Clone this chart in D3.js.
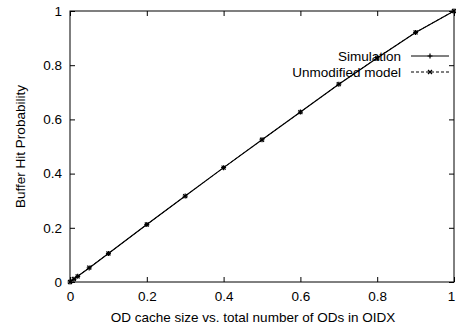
<!DOCTYPE html>
<html>
<head>
<meta charset="utf-8">
<script src="https://cdn.jsdelivr.net/npm/d3@7"></script>
<style>
  html, body { margin: 0; padding: 0; background: #fff; }
  svg { display: block; font-family: "Liberation Sans", Arial, sans-serif; }
</style>
</head>
<body>
<svg id="chart" width="456" height="331"></svg>
<script>
// Cache size ratio (x) and buffer hit probability for each series
const cacheRatio = [0, 0.01, 0.02, 0.05, 0.1, 0.2, 0.3, 0.4, 0.5, 0.6, 0.7, 0.8, 0.9, 1.0];
const simulationHit = [0, 0.010, 0.021, 0.052, 0.105, 0.212, 0.317, 0.422, 0.525, 0.627, 0.730, 0.827, 0.921, 1.0];
const modelHit = [0, 0.011, 0.021, 0.053, 0.105, 0.212, 0.317, 0.422, 0.525, 0.627, 0.730, 0.827, 0.921, 1.0];
const xTicks = [0, 0.2, 0.4, 0.6, 0.8, 1];
const yTicks = [0, 0.2, 0.4, 0.6, 0.8, 1];
const seriesNames = ["Simulation", "Unmodified model"];

const svg = d3.select("#chart");
const margin = { left: 70, right: 2, top: 11, bottom: 49 };
const W = 456, H = 331;
const FS = 13.5;

const x = d3.scaleLinear().domain([0, 1]).range([margin.left, W - margin.right]);
const y = d3.scaleLinear().domain([0, 1]).range([H - margin.bottom, margin.top]);

const tickLen = 5;

// Axes with inward ticks, mirrored on the opposite sides
const fmt = d => d === 0 ? "0" : (d === 1 ? "1" : d3.format(".1f")(d));

const gx = svg.append("g").attr("transform", `translate(0,${y(0)})`)
  .call(d3.axisBottom(x).tickValues(xTicks).tickFormat(fmt).tickSizeInner(-tickLen).tickSizeOuter(0).tickPadding(9));
const gy = svg.append("g").attr("transform", `translate(${x(0)},0)`)
  .call(d3.axisLeft(y).tickValues(yTicks).tickFormat(fmt).tickSizeInner(-tickLen).tickSizeOuter(0).tickPadding(8));
const gxTop = svg.append("g").attr("transform", `translate(0,${y(1)})`)
  .call(d3.axisTop(x).tickValues(xTicks).tickFormat("").tickSizeInner(-tickLen).tickSizeOuter(0));
const gyRight = svg.append("g").attr("transform", `translate(${x(1)},0)`)
  .call(d3.axisRight(y).tickValues(yTicks).tickFormat("").tickSizeInner(-tickLen).tickSizeOuter(0));

[gx, gy, gxTop, gyRight].forEach(g => {
  g.select(".domain").remove();
  g.selectAll("line").attr("stroke", "#000");
  g.selectAll("text").attr("fill", "#000").attr("font-size", FS)
    .attr("font-family", "'Liberation Sans', Arial, sans-serif");
});
// keep the last x label inside the window
gx.selectAll(".tick:last-of-type text").attr("text-anchor", "end").attr("dx", "0.05em");

// Plot border
svg.append("rect")
  .attr("x", x(0)).attr("y", y(1))
  .attr("width", x(1) - x(0)).attr("height", y(0) - y(1))
  .attr("fill", "none").attr("stroke", "#000").attr("stroke-width", 1);

// Axis titles
svg.append("text")
  .attr("x", 253).attr("y", 322)
  .attr("text-anchor", "middle").attr("font-size", FS)
  .text("OD cache size vs. total number of ODs in OIDX");
svg.append("text")
  .attr("transform", `translate(25,${(y(0) + y(1)) / 2}) rotate(-90)`)
  .attr("text-anchor", "middle").attr("font-size", FS)
  .text("Buffer Hit Probability");

const line = d3.line().x(d => x(d[0])).y(d => y(d[1]));
const simData = cacheRatio.map((c, i) => [c, simulationHit[i]]);
const modData = cacheRatio.map((c, i) => [c, modelHit[i]]);

const plusPath = s => `M${-s},0H${s}M0,${-s}V${s}`;
const crossPath = s => `M${-s},${-s}L${s},${s}M${-s},${s}L${s},${-s}`;

// Model series (dashed, x markers)
svg.append("path").datum(modData).attr("d", line)
  .attr("fill", "none").attr("stroke", "#000").attr("stroke-width", 1)
  .attr("stroke-dasharray", "3,2");
svg.append("g").selectAll("path").data(modData).join("path")
  .attr("transform", d => `translate(${x(d[0])},${y(d[1])})`)
  .attr("d", crossPath(2)).attr("stroke", "#000").attr("stroke-width", 1.2);

// Simulation series (solid, + markers)
svg.append("path").datum(simData).attr("d", line)
  .attr("fill", "none").attr("stroke", "#000").attr("stroke-width", 1.2);
svg.append("g").selectAll("path").data(simData).join("path")
  .attr("transform", d => `translate(${x(d[0])},${y(d[1])})`)
  .attr("d", plusPath(2.5)).attr("stroke", "#000").attr("stroke-width", 1.2);

// Legend
const legend = svg.append("g");
const legRows = [
  { name: seriesNames[0], dash: null, marker: plusPath(2.5), yPos: 56 },
  { name: seriesNames[1], dash: "3,2", marker: crossPath(2), yPos: 72 }
];
legRows.forEach(r => {
  legend.append("text").attr("x", 401).attr("y", r.yPos).attr("dy", "0.35em")
    .attr("text-anchor", "end").attr("font-size", FS).attr("fill", "#000").text(r.name);
  legend.append("line").attr("x1", 411).attr("x2", 449).attr("y1", r.yPos).attr("y2", r.yPos)
    .attr("stroke", "#000").attr("stroke-width", 1)
    .attr("stroke-dasharray", r.dash);
  legend.append("path").attr("transform", `translate(430,${r.yPos})`)
    .attr("d", r.marker).attr("stroke", "#000").attr("stroke-width", 1.2);
});
</script>
</body>
</html>
